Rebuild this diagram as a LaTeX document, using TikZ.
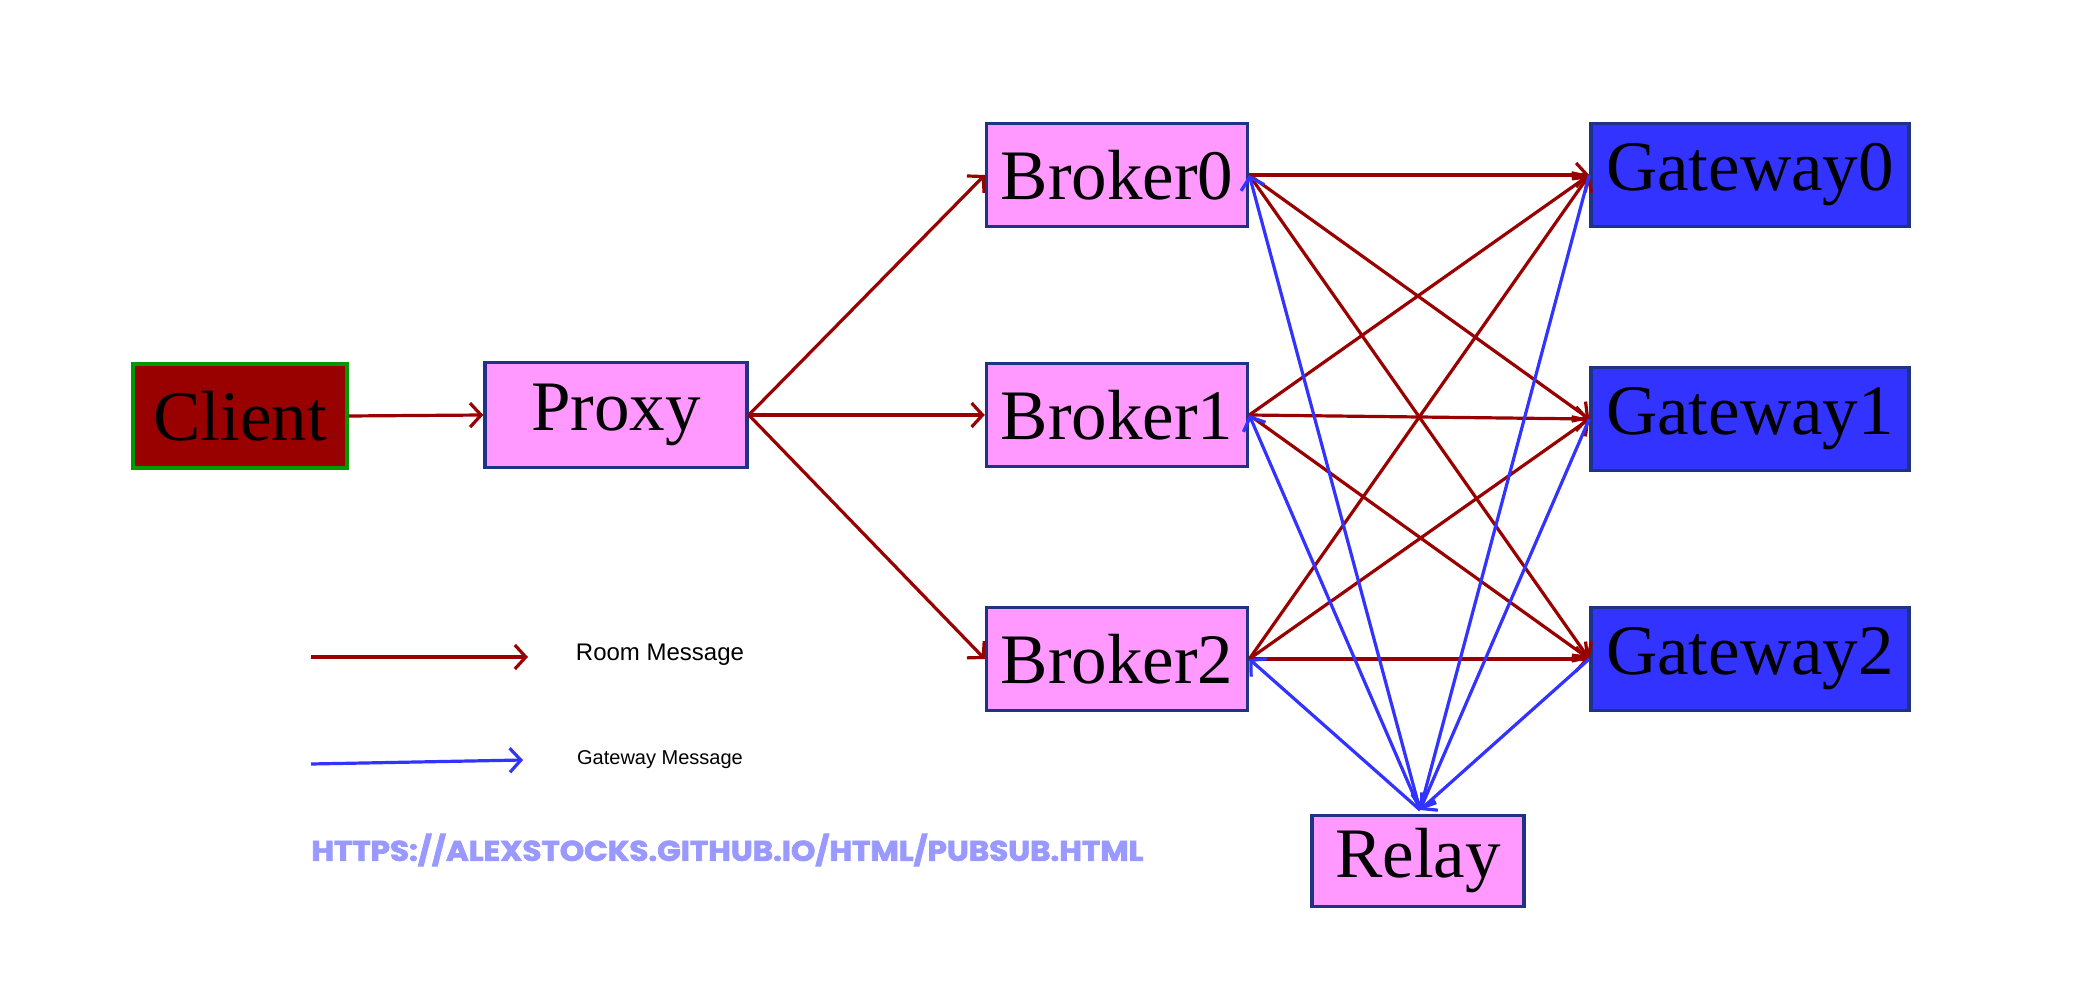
\documentclass[tikz,border=0pt]{standalone}
\usepackage{fontspec}
\setmainfont{Liberation Serif}
\newfontfamily\legendfont{Liberation Sans}
\newfontfamily\urlfont{Poppins}[BoldFeatures={FakeBold=2.5}]
\usetikzlibrary{arrows.meta}
\definecolor{pinkfill}{HTML}{FF99FF}
\definecolor{boxborder}{HTML}{1F3384}
\definecolor{darkred}{HTML}{990000}
\definecolor{gwblue}{HTML}{3333FF}
\definecolor{greenborder}{HTML}{009900}
\definecolor{urlcol}{HTML}{9999FF}
\tikzset{
  box/.style={draw=boxborder, line width=1.75pt, fill=pinkfill, inner sep=0pt,
    font=\fontsize{35.5}{40}\selectfont, text=black},
  clientbox/.style={box, draw=greenborder, fill=darkred},
  gwbox/.style={box, fill=gwblue},
  roomarrow/.style={draw=darkred, line width=1.6pt, -{Straight Barb[length=5.5pt,width=12pt,line width=1.6pt]}},
  gwarrow/.style={draw=gwblue, line width=1.6pt, -{Straight Barb[length=5.5pt,width=12pt,line width=1.6pt]}},
}
\begin{document}
\begin{tikzpicture}[x=0.5pt,y=-0.5pt]
\fill[white] (0,0) rectangle (2090,994);
\useasboundingbox (0,0) rectangle (2090,994);

\node[clientbox, minimum width=107pt, minimum height=52pt] (client) at (240,416) {Client};
\node[box, minimum width=131pt, minimum height=52.5pt] (proxy) at (616,415) {Proxy};
\node[box, minimum width=130.5pt, minimum height=51.5pt] (b0) at (1117,175) {Broker0};
\node[box, minimum width=130.5pt, minimum height=51.5pt] (b1) at (1117,415) {Broker1};
\node[box, minimum width=130.5pt, minimum height=51.5pt] (b2) at (1117,659) {Broker2};
\node[gwbox, minimum width=159pt, minimum height=51.5pt] (g0) at (1750,175) {Gateway0};
\node[gwbox, minimum width=159pt, minimum height=51.5pt] (g1) at (1750,419) {Gateway1};
\node[gwbox, minimum width=159pt, minimum height=51.5pt] (g2) at (1750,659) {Gateway2};
\node[box, minimum width=106pt, minimum height=45.5pt] (relay) at (1418,861) {Relay};
\coordinate (rtop) at (1420,810);

% room messages
\draw[roomarrow] (client.east) -- (proxy.west);
\foreach \b in {b0,b1,b2}{
  \draw[roomarrow] (proxy.east) -- (\b.west);
}
\foreach \b in {b0,b1,b2}{
  \foreach \g in {g0,g1,g2}{
    \draw[roomarrow] (\b.east) -- (\g.west);
  }
}
% gateway messages
\foreach \g in {g0,g1,g2}{
  \draw[gwarrow] (\g.west) -- (rtop);
}
\foreach \b in {b0,b1,b2}{
  \draw[gwarrow] (rtop) -- (\b.east);
}

% legend
\coordinate (l1a) at (311,657);
\coordinate (l1b) at (528,657);
\coordinate (l2a) at (311,764);
\coordinate (l2b) at (523,760);
\draw[roomarrow] (l1a) -- (l1b);
\draw[gwarrow] (l2a) -- (l2b);
\node[font=\legendfont\fontsize{12}{14}\selectfont, inner sep=0pt] (lroom) at (660,655) {Room Message};
\node[font=\legendfont\fontsize{10}{12}\selectfont, inner sep=0pt] (lgw) at (660,760) {Gateway Message};

\node[anchor=west, inner sep=0pt, text=urlcol] (url) at (311,850)
  {\resizebox{416pt}{13.5pt}{\urlfont\bfseries HTTPS://ALEXSTOCKS.GITHUB.IO/HTML/PUBSUB.HTML}};
\end{tikzpicture}
\end{document}
